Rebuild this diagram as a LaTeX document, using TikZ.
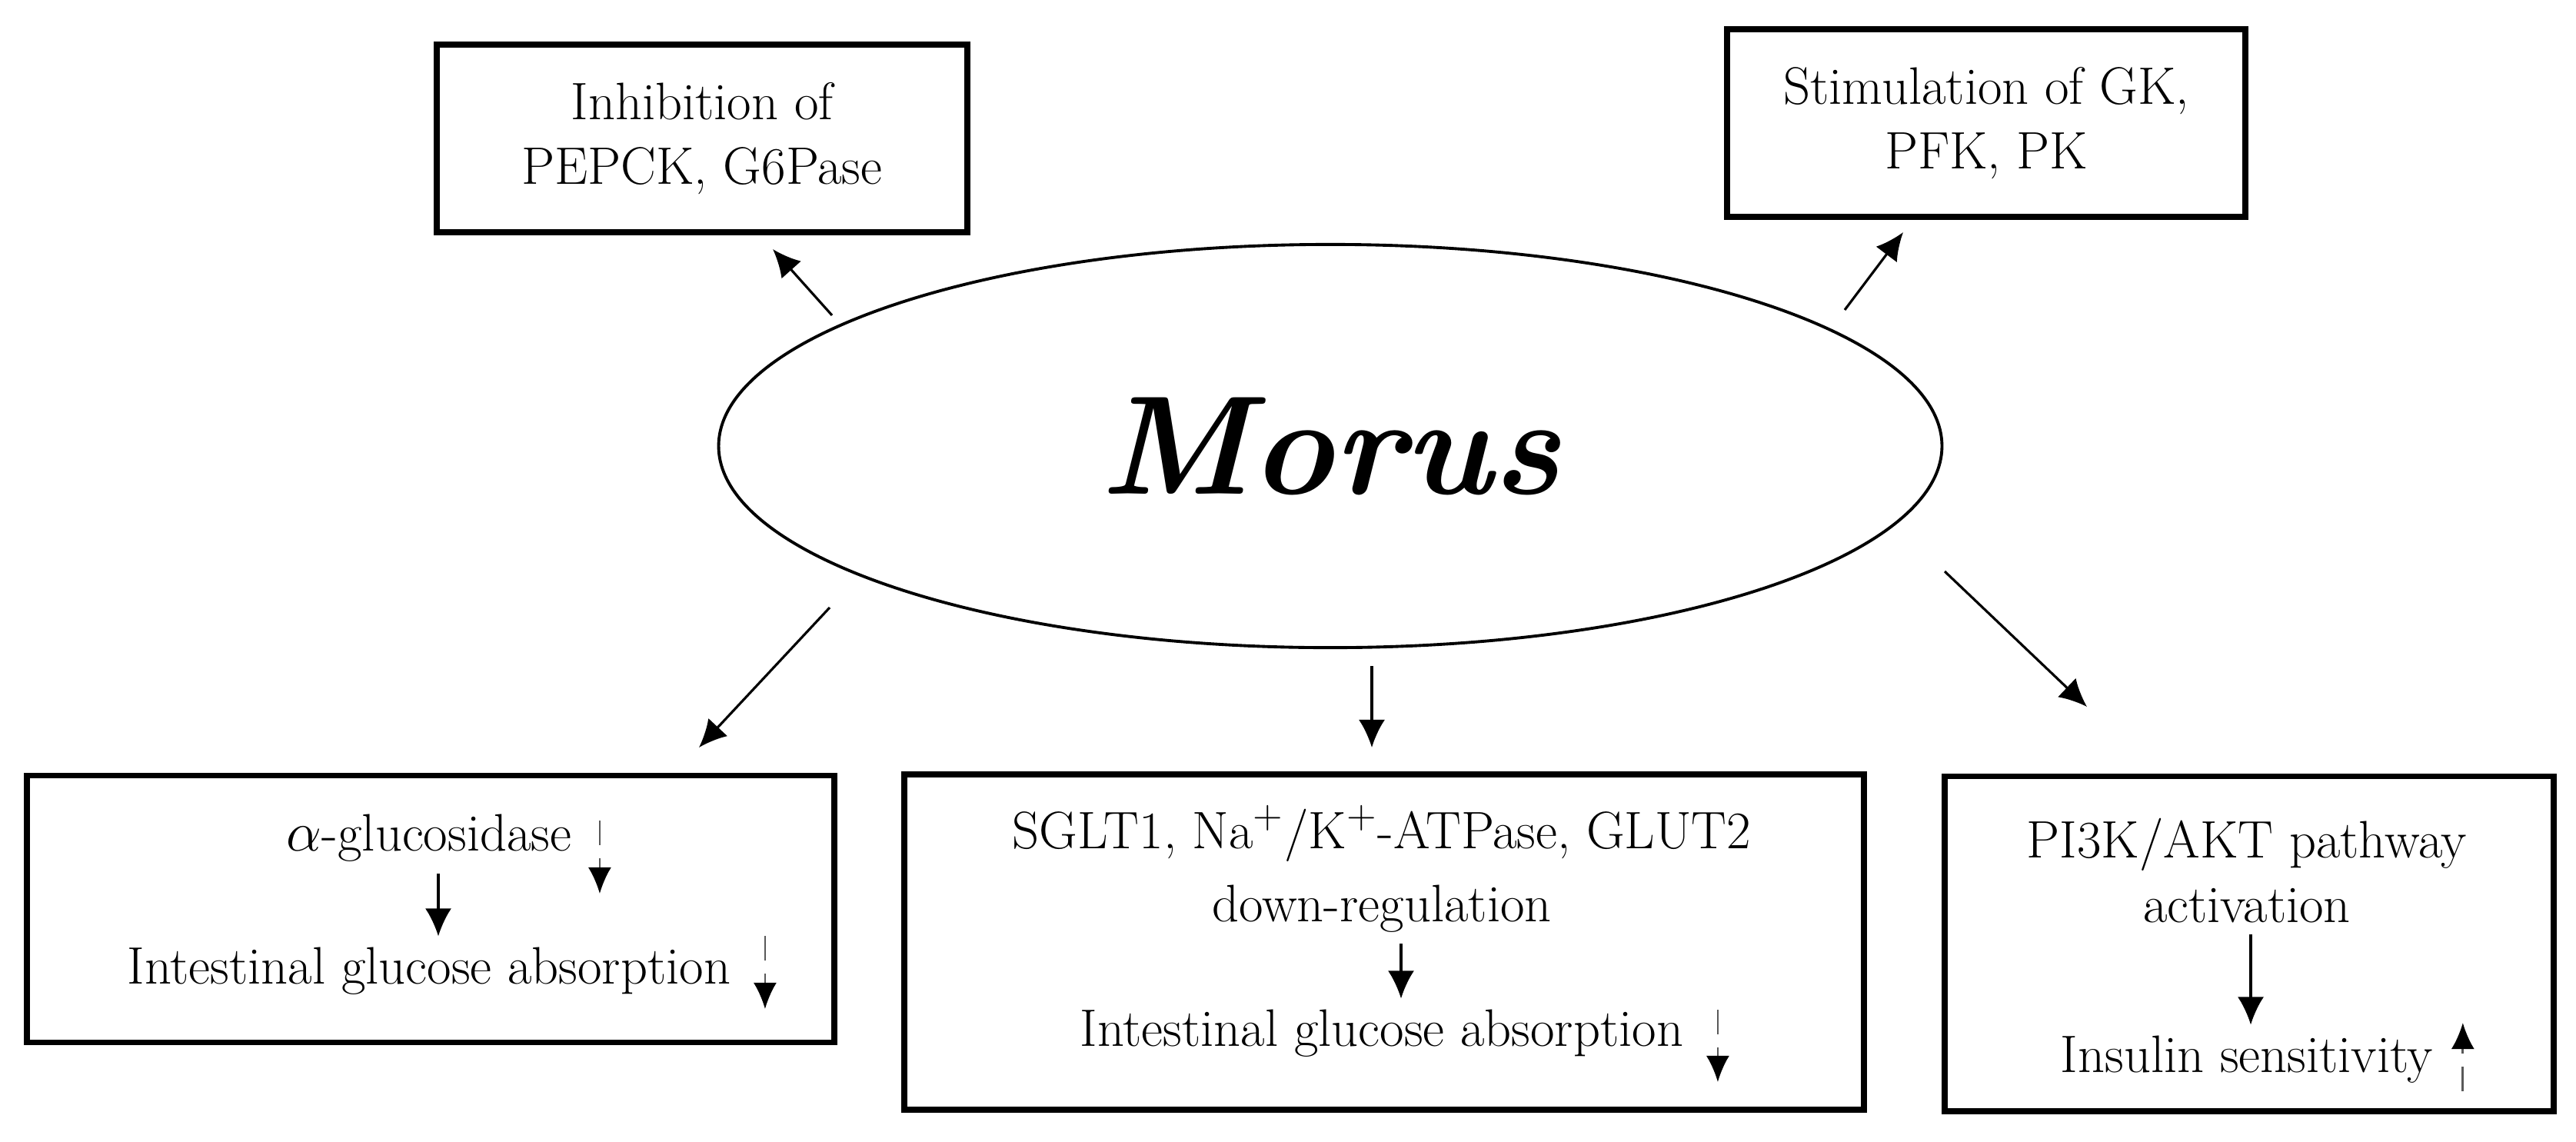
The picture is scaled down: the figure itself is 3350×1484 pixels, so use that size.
\documentclass[tikz,border=0pt]{standalone}
\usetikzlibrary{arrows.meta,shapes.geometric}
\begin{document}
\begin{tikzpicture}[
        x=0.01cm,
        y=-0.01cm,
        box/.style={draw, line width=2.2pt, inner sep=0pt},
        txt/.style={font=\fontsize{19.5}{24}\selectfont, align=center, inner sep=4pt},
        arr/.style={line width=0.9pt, -{Latex[length=0.36cm,width=0.34cm]}},
        dsh/.style={line width=0.8pt, gray!70!black, dash pattern=on 9pt off 5pt, -{Latex[length=0.34cm,width=0.3cm,black]}}]

\useasboundingbox (0,0) rectangle (3350,1484);

%Mitte
\node[draw, ellipse, line width=1.1pt, minimum width=15.9cm, minimum height=5.24cm,
      font=\fontsize{52}{60}\selectfont\bfseries\itshape] (morus) at (1730,580) {Morus};

%Obere Kaesten
\node[box, txt, minimum width=6.89cm, minimum height=2.44cm] (inhib) at (913,180)
      {Inhibition of\\PEPCK, G6Pase};
\node[box, txt, minimum width=6.74cm, minimum height=2.44cm] (stim) at (2583,160)
      {Stimulation of GK,\\PFK, PK};

%Untere Kaesten
\node[box, minimum width=10.49cm, minimum height=3.47cm] (gluc) at (560,1182) {};
\node[box, minimum width=12.47cm, minimum height=4.36cm] (sglt) at (1800,1225) {};
\node[box, minimum width=7.91cm, minimum height=4.35cm] (pik) at (2925,1227) {};

%Texte In Den Kaesten
\node[txt] (alpha) at (558,1090) {$\alpha$-glucosidase};
\node[txt] (abs1) at (558,1263) {Intestinal glucose absorption};
\node[txt, font=\fontsize{19.5}{27}\selectfont] (down) at (1797,1130) {SGLT1, Na$^{+}$/K$^{+}$-ATPase, GLUT2\\down-regulation};
\node[txt] (abs2) at (1797,1344) {Intestinal glucose absorption};
\node[txt] (path) at (2922,1132) {PI3K/AKT pathway\\activation};
\node[txt] (insul) at (2922,1378) {Insulin sensitivity};

%Pfeile Von Morus
\coordinate (a1) at (1082,410); \coordinate (b1) at (1005,324);
\coordinate (a2) at (2399,403); \coordinate (b2) at (2475,302);
\coordinate (a3) at (1079,790); \coordinate (b3) at (909,972);
\coordinate (a4) at (1784,866); \coordinate (b4) at (1784,972);
\coordinate (a5) at (2529,743); \coordinate (b5) at (2714,919);
\draw[arr] (a1) -- (b1);
\draw[arr] (a2) -- (b2);
\draw[arr] (a3) -- (b3);
\draw[arr] (a4) -- (b4);
\draw[arr] (a5) -- (b5);

%Pfeile In Den Kaesten
\draw[arr] ([xshift=0.12cm]alpha.south) -- ([xshift=0.12cm]abs1.north);
\draw[arr] ([xshift=0.25cm]down.south) -- ([xshift=0.25cm]abs2.north);
\draw[arr] ([xshift=0.05cm]path.south) -- ([xshift=0.05cm]insul.north);

%Gestrichelte Pfeile
\draw[dsh] ([xshift=0.22cm,yshift=0.23cm]alpha.east) -- ++(0,95);
\draw[dsh] ([xshift=0.3cm,yshift=0.46cm]abs1.east) -- ++(0,95);
\draw[dsh] ([xshift=0.3cm,yshift=0.31cm]abs2.east) -- ++(0,94);
\draw[dsh] ([xshift=0.24cm,yshift=-0.41cm]insul.east) -- ++(0,-89);

\end{tikzpicture}
\end{document}
